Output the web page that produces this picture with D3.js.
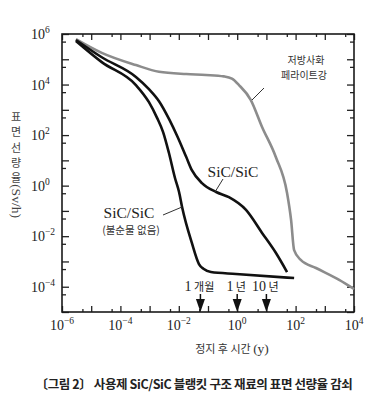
<!DOCTYPE html>
<html><head><meta charset="utf-8">
<script src="https://cdn.jsdelivr.net/npm/d3@7/dist/d3.min.js"></script>
<style>
html,body{margin:0;padding:0;background:#fff;}
svg{display:block;}
</style></head>
<body>
<script>
// ---- data ----
// time after shutdown (years) and surface dose rate (Sv/h)
const ferriteTime = [3e-6, 2.3e-5, 3.4e-4, 2.1e-3, 1.8e-2, 8.5e-2, 0.35, 0.66, 1.15, 2.9, 7.1, 21, 51, 70, 89, 150, 500, 3100, 1e4];
const ferriteRate = [6.3e5, 1.8e5, 5.9e4, 3.2e4, 2.6e4, 2.4e4, 2.1e4, 1.7e4, 9.5e3, 2.5e3, 210, 13.5, 0.51, 0.044, 2.8e-3, 1.15e-3, 5.5e-4, 1.85e-4, 8.1e-5];
const sicTime = [3e-6, 2.3e-5, 3.4e-4, 9.5e-4, 2.1e-3, 4.8e-3, 8.8e-3, 1.8e-2, 2.8e-2, 6.2e-2, 0.19, 0.52, 2.0, 7.1, 21, 51];
const sicRate = [5.8e5, 1.2e5, 2e4, 6.6e3, 2.2e3, 400, 92, 13.5, 4.1, 1.26, 0.56, 0.35, 0.11, 0.0135, 2.2e-3, 3.8e-4];
const pureTime = [3e-6, 2.3e-5, 3.4e-4, 9.5e-4, 1.8e-3, 2.9e-3, 4.6e-3, 7.4e-3, 1.02e-2, 1.3e-2, 2.8e-2, 4.9e-2, 7.2e-2, 0.126, 0.91, 89];
const pureRate = [5.3e5, 7.7e4, 9.5e3, 2e3, 480, 132, 19.5, 2.0, 0.56, 0.14, 5.4e-3, 7.9e-4, 5e-4, 3.8e-4, 3.2e-4, 2.2e-4];
const xTickExps = [-6, -4, -2, 0, 2, 4];
const yTickExps = [6, 4, 2, 0, -2, -4];
const markerTimes = [0.055, 1, 10];
const markerLabels = [["1", " 개월"], ["1", " 년"], ["10", " 년"]];
const yTitleChars = ["표", "면", "선", "량", "율"];
const yTitleUnit = "(Sv/h)";
const xTitleKo = "정지 후 시간 ";
const xTitleUnit = "(y)";
const ferriteLabel = ["저방사화", "페라이트강"];
const sicLabel = "SiC/SiC";
const pureLabel = ["SiC/SiC", "(불순물 없음)"];
const caption = "〔그림 2〕 사용제 SiC/SiC 블랭킷 구조 재료의 표면 선량율 감쇠";

// ---- layout ----
const W = 380, H = 412;
const L = 62, R = 354, T = 34, B = 312;
const serif = "'Liberation Serif','DejaVu Serif',serif";
const kr = "'Noto Sans CJK KR','Noto Sans',sans-serif";

const svg = d3.select("body").append("svg").attr("width", W).attr("height", H);
const x = d3.scaleLog().domain([1e-6, 1e4]).range([L, R]);
const y = d3.scaleLog().domain([1e-5, 1e6]).range([B, T]);

// ticks
const decX = d3.range(-6, 5).map(e => Math.pow(10, e));
const minX = d3.range(-6, 4).map(e => 5 * Math.pow(10, e));
const decY = d3.range(-5, 7).map(e => Math.pow(10, e));
const minY = d3.range(-5, 6).map(e => 5 * Math.pow(10, e));

const axB = d3.axisBottom(x).tickValues(decX).tickSize(-6).tickFormat("");
const axBm = d3.axisBottom(x).tickValues(minX).tickSize(-3).tickFormat("");
const axT = d3.axisTop(x).tickValues(decX).tickSize(-6).tickFormat("");
const axTm = d3.axisTop(x).tickValues(minX).tickSize(-3).tickFormat("");
const axL = d3.axisLeft(y).tickValues(decY).tickSize(-7).tickFormat("");
const axLm = d3.axisLeft(y).tickValues(minY).tickSize(-4).tickFormat("");
const axR = d3.axisRight(y).tickValues(decY).tickSize(-7).tickFormat("");
const axRm = d3.axisRight(y).tickValues(minY).tickSize(-4).tickFormat("");

[[axB, `translate(0,${B})`], [axBm, `translate(0,${B})`], [axT, `translate(0,${T})`], [axTm, `translate(0,${T})`],
 [axL, `translate(${L},0)`], [axLm, `translate(${L},0)`], [axR, `translate(${R},0)`], [axRm, `translate(${R},0)`]]
 .forEach(([a, t]) => {
   const g = svg.append("g").attr("transform", t).call(a);
   g.select(".domain").remove();
   g.selectAll("line").attr("stroke", "#222").attr("stroke-width", 1.3);
 });

svg.append("rect").attr("x", L).attr("y", T).attr("width", R - L).attr("height", B - T)
  .attr("fill", "none").attr("stroke", "#1a1a1a").attr("stroke-width", 1.6);

// tick labels
const sup = e => (e < 0 ? "\u2212" + (-e) : String(e));
xTickExps.forEach(e => {
  const t = svg.append("text").attr("x", x(Math.pow(10, e))).attr("y", 330)
    .attr("text-anchor", "middle").attr("font-family", serif).attr("font-size", 14).attr("fill", "#222");
  t.append("tspan").text("10");
  t.append("tspan").attr("dy", -6).attr("font-size", 9.5).text(sup(e));
});
yTickExps.forEach(e => {
  const t = svg.append("text").attr("x", 31).attr("y", y(Math.pow(10, e)) + 5)
    .attr("font-family", serif).attr("font-size", 14).attr("fill", "#222");
  t.append("tspan").text("10");
  t.append("tspan").attr("dy", -6).attr("font-size", 9.5).text(sup(e));
});

// curves
const line = d3.line().x(d => x(d[0])).y(d => y(d[1])).curve(d3.curveMonotoneX);
const plotG = svg.append("g");
plotG.append("path").datum(d3.zip(ferriteTime, ferriteRate)).attr("d", line)
  .attr("fill", "none").attr("stroke", "#8c8c8c").attr("stroke-width", 2.6);
plotG.append("path").datum(d3.zip(sicTime, sicRate)).attr("d", line)
  .attr("fill", "none").attr("stroke", "#111").attr("stroke-width", 2.6);
plotG.append("path").datum(d3.zip(pureTime, pureRate)).attr("d", line)
  .attr("fill", "none").attr("stroke", "#111").attr("stroke-width", 2.6);

// markers (arrows)
markerTimes.forEach((t, i) => {
  const cx = x(t);
  svg.append("line").attr("x1", cx).attr("x2", cx).attr("y1", 294).attr("y2", 301)
    .attr("stroke", "#111").attr("stroke-width", 1.5);
  svg.append("path").attr("d", `M${cx - 4.5},299 L${cx + 4.5},299 L${cx},${B} Z`).attr("fill", "#111");
  const tx = svg.append("text").attr("x", cx - 1).attr("y", 291).attr("text-anchor", "middle").attr("fill", "#222");
  tx.append("tspan").attr("font-family", serif).attr("font-size", 14).text(markerLabels[i][0]);
  tx.append("tspan").attr("font-family", kr).attr("font-size", 11).text(markerLabels[i][1]);
});

// annotations
const ann = svg.append("g");
ann.append("text").attr("x", 306).attr("y", 64).attr("text-anchor", "middle")
  .attr("font-family", kr).attr("font-size", 10).attr("fill", "#333").text(ferriteLabel[0]);
ann.append("text").attr("x", 304).attr("y", 79).attr("text-anchor", "middle")
  .attr("font-family", kr).attr("font-size", 10).attr("fill", "#333").text(ferriteLabel[1]);
ann.append("line").attr("x1", 264).attr("y1", 88).attr("x2", 252).attr("y2", 100).attr("stroke", "#333").attr("stroke-width", 1);

ann.append("text").attr("x", 233).attr("y", 177).attr("text-anchor", "middle")
  .attr("font-family", serif).attr("font-size", 15.5).attr("fill", "#222").text(sicLabel);
ann.append("line").attr("x1", 223).attr("y1", 179).attr("x2", 215).attr("y2", 192).attr("stroke", "#333").attr("stroke-width", 1);

ann.append("text").attr("x", 129).attr("y", 218).attr("text-anchor", "middle")
  .attr("font-family", serif).attr("font-size", 15.5).attr("fill", "#222").text(pureLabel[0]);
ann.append("text").attr("x", 131).attr("y", 234).attr("text-anchor", "middle")
  .attr("font-family", kr).attr("font-size", 10.5).attr("fill", "#333").text(pureLabel[1]);
ann.append("line").attr("x1", 163).attr("y1", 215).attr("x2", 182).attr("y2", 207).attr("stroke", "#333").attr("stroke-width", 1);

// y title
yTitleChars.forEach((c, i) => {
  svg.append("text").attr("x", 16).attr("y", 121 + i * 15.3).attr("text-anchor", "middle")
    .attr("font-family", kr).attr("font-size", 11).attr("fill", "#444").text(c);
});
svg.append("text").attr("transform", "translate(12,201) rotate(90)").attr("text-anchor", "middle")
  .attr("font-family", serif).attr("font-size", 13.5).attr("fill", "#444").text(yTitleUnit);

// x title
const xt = svg.append("text").attr("x", 232).attr("y", 353).attr("text-anchor", "middle").attr("fill", "#333");
xt.append("tspan").attr("font-family", kr).attr("font-size", 11).text(xTitleKo);
xt.append("tspan").attr("font-family", serif).attr("font-size", 13.5).text(xTitleUnit);

// caption
svg.append("text").attr("x", 194).attr("y", 389).attr("text-anchor", "middle")
  .attr("font-family", kr).attr("font-weight", "bold").attr("font-size", 12.5).attr("fill", "#222")
  .attr("letter-spacing", -0.4).text(caption);
</script>
</body></html>
